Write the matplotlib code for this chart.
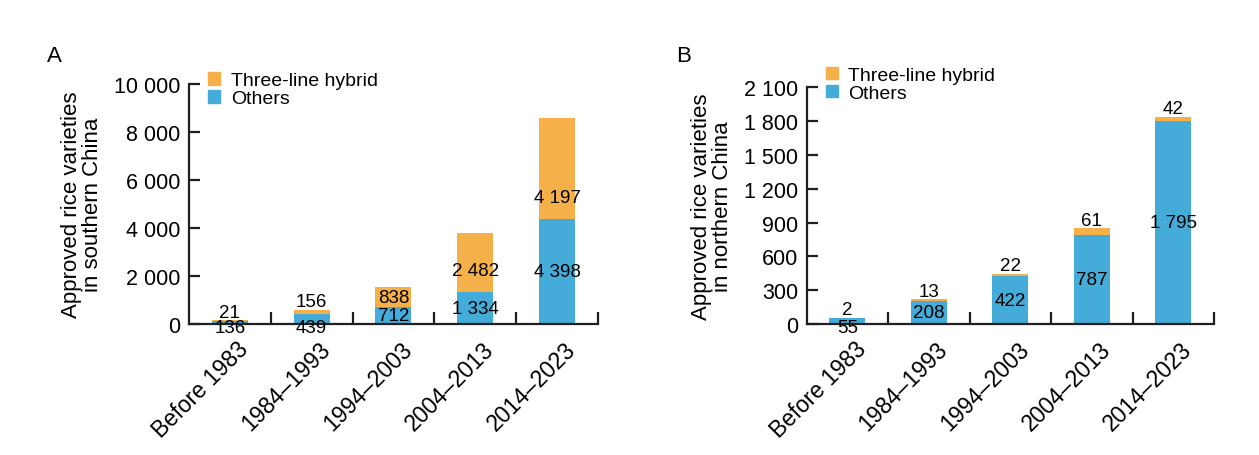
import matplotlib
matplotlib.use('Agg')
import matplotlib.pyplot as plt
from matplotlib.patches import Patch

plt.rcParams['font.family'] = ['Liberation Sans', 'DejaVu Sans']

# data
periods = ['Before 1983', '1984\u20131993', '1994\u20132003', '2004\u20132013', '2014\u20132023']
south_others = [136, 439, 712, 1334, 4398]
south_hybrid = [21, 156, 838, 2482, 4197]
north_others = [55, 208, 422, 787, 1795]
north_hybrid = [2, 13, 22, 61, 42]

south_ticks = [0, 2000, 4000, 6000, 8000, 10000]
north_ticks = [0, 300, 600, 900, 1200, 1500, 1800, 2100]

ORANGE = '#F5B04A'
BLUE = '#45ABD8'
DARK = '#231F20'


def fmt(v):
    # space as thousands separator like the paper
    return '{:,}'.format(v).replace(',', ' ')


def draw_panel(ax, others, hybrid, ticks, ylabel, legend_y):
    x = list(range(len(periods)))
    ymax = ticks[-1]
    ax.bar(x, others, width=0.44, color=BLUE, linewidth=0)
    ax.bar(x, hybrid, width=0.44, bottom=others, color=ORANGE, linewidth=0)
    ax.set_xlim(-0.5, len(periods) - 0.5)
    ax.set_ylim(0, ymax)

    # pixel height of one data unit, to decide where labels go
    px = ax.get_window_extent().height / ymax

    for i in x:
        o, h = others[i], hybrid[i]
        # others label
        if o * px < 15:
            ax.annotate(fmt(o), (i, 0), xytext=(0, -3), textcoords='offset pixels',
                        ha='center', va='center', fontsize=13.5)
        else:
            ax.text(i, o / 2, fmt(o), ha='center', va='center', fontsize=13.5)
        # hybrid label
        if h < 0.05 * ymax:
            ax.annotate(fmt(h), (i, o + h), xytext=(0, 8), textcoords='offset pixels',
                        ha='center', va='center', fontsize=13.5)
        else:
            ax.text(i, o + min(h / 2, 0.09 * ymax), fmt(h), ha='center', va='center',
                    fontsize=13.5)

    ax.spines['top'].set_visible(False)
    ax.spines['right'].set_visible(False)
    for s in ['left', 'bottom']:
        ax.spines[s].set_linewidth(1.6)
        ax.spines[s].set_color(DARK)

    ax.set_yticks(ticks)
    ax.set_yticklabels([fmt(t) for t in ticks], fontsize=15.5)
    ax.tick_params(axis='y', direction='in', length=8, width=1.6, color=DARK, pad=6)

    ax.set_xticks([i + 0.5 for i in x])
    ax.set_xticklabels([])
    ax.tick_params(axis='x', direction='in', length=9, width=1.6, color=DARK)
    for i, p in enumerate(periods):
        ax.annotate(p, (i, 0), xytext=(7, -13), textcoords='offset pixels',
                    rotation=45, rotation_mode='anchor',
                    ha='right', va='top', fontsize=16.5)

    ax.set_ylabel(ylabel, fontsize=16, labelpad=8, linespacing=1.0)

    handles = [Patch(color=ORANGE, label='Three-line hybrid'), Patch(color=BLUE, label='Others')]
    ax.legend(handles=handles, loc='upper left', bbox_to_anchor=(0.048, legend_y), frameon=False,
              fontsize=14, handlelength=0.6, handleheight=0.6, handletextpad=0.55,
              labelspacing=0.05, borderaxespad=0, borderpad=0)


fig = plt.figure(figsize=(12.59, 4.56), dpi=100)
ax_a = fig.add_axes([0.150, 0.287, 0.325, 0.526])
ax_b = fig.add_axes([0.6406, 0.287, 0.3237, 0.520])

draw_panel(ax_a, south_others, south_hybrid, south_ticks,
           'Approved rice varieties\nin southern China', 1.05)
draw_panel(ax_b, north_others, north_hybrid, north_ticks,
           'Approved rice varieties\nin northern China', 1.085)

fig.text(0.037, 0.865, 'A', fontsize=16)
fig.text(0.537, 0.865, 'B', fontsize=16)

fig.savefig('out.png', dpi=100)
